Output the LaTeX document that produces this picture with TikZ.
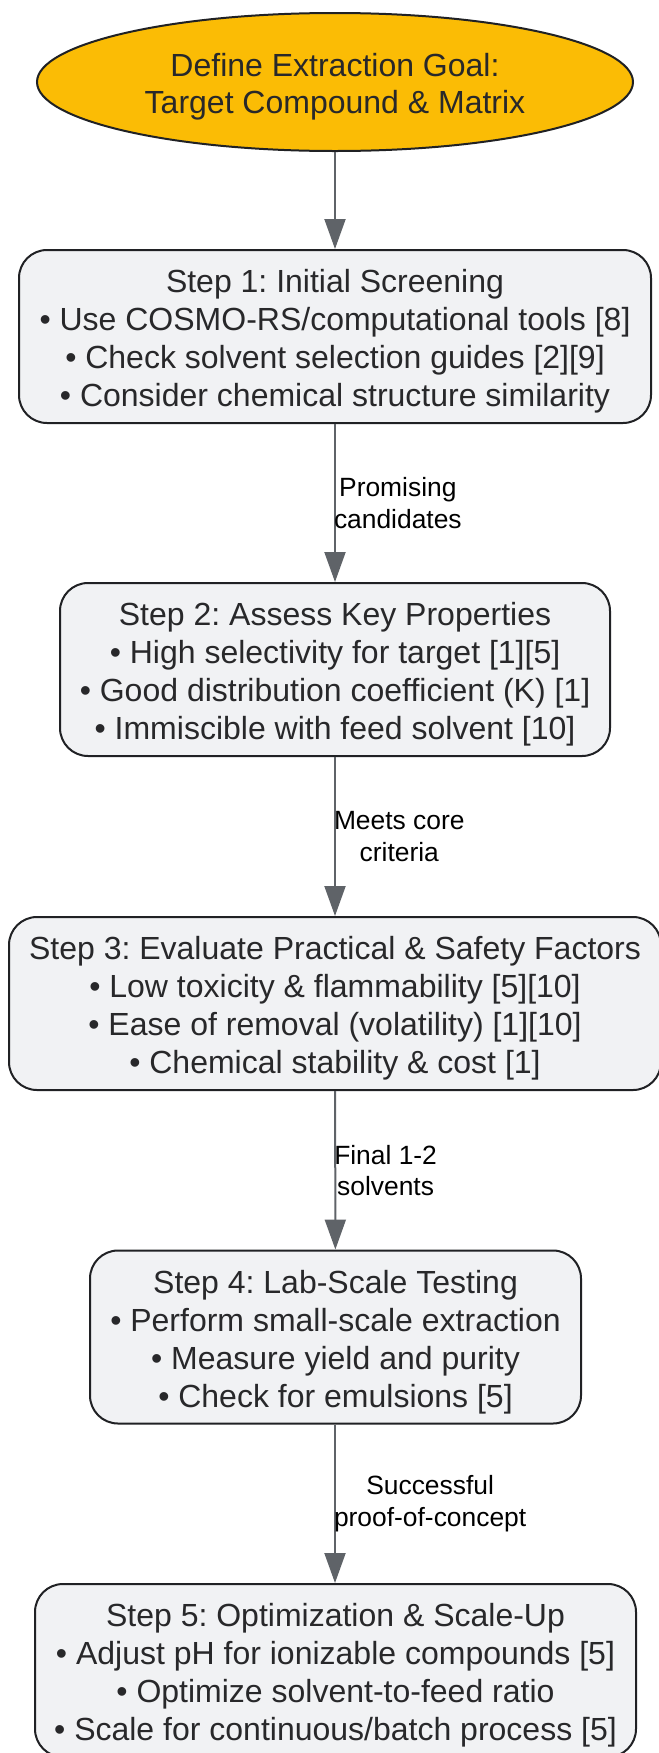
\documentclass[tikz,border=0pt]{standalone}
\usepackage{fontspec}
\setmainfont{Liberation Sans}
\frenchspacing
\usetikzlibrary{shapes.geometric,arrows.meta}
\definecolor{goalfill}{RGB}{251,188,5}
\definecolor{boxfill}{RGB}{241,242,244}
\definecolor{boxline}{RGB}{32,33,36}
\definecolor{txt}{RGB}{40,40,42}
\definecolor{arrgray}{RGB}{95,99,104}
\newcommand{\toppad}{\rule{0pt}{24.5pt}}
\begin{document}
\begin{tikzpicture}[x=0.75pt,y=-0.75pt,
  goalnode/.style={ellipse,draw=boxline,line width=1.5pt,fill=goalfill,
    minimum width=447pt,minimum height=103.5pt,inner sep=0pt,align=center,
    text=txt,font=\fontsize{24}{27.75}\selectfont},
  stepbox/.style={rectangle,rounded corners=21pt,draw=boxline,line width=1.5pt,
    fill=boxfill,minimum height=129.75pt,inner sep=0pt,align=center,
    text=txt,font=\fontsize{24}{28.5}\selectfont},
  arr/.style={draw=arrgray,line width=1.5pt,-{Triangle[length=22.5pt,width=15.75pt]}},
  lbl/.style={anchor=west,inner sep=0pt,xshift=-1.5pt,align=center,text=black,
    font=\fontsize{19.8}{23.5}\selectfont}]
\useasboundingbox (0,0) rectangle (659,1753);
\node[goalnode] (goal) at (335,82) {\toppad Define Extraction Goal:\\Target Compound \& Matrix};
\node[stepbox,minimum width=474pt] (s1) at (335,336.5)
  {\toppad Step 1: Initial Screening\\• Use COSMO-RS/computational tools [8]\\• Check solvent selection guides [2][9]\\• Consider chemical structure similarity};
\node[stepbox,minimum width=412.5pt] (s2) at (335,669.5)
  {\toppad Step 2: Assess Key Properties\\• High selectivity for target [1][5]\\• Good distribution coefficient (K) [1]\\• Immiscible with feed solvent [10]};
\node[stepbox,minimum width=489pt] (s3) at (335,1003.5)
  {\toppad Step 3: Evaluate Practical \& Safety Factors\\• Low toxicity \& flammability [5][10]\\• Ease of removal (volatility) [1][10]\\• Chemical stability \& cost [1]};
\node[stepbox,minimum width=368.25pt] (s4) at (335.5,1337)
  {\toppad Step 4: Lab-Scale Testing\\• Perform small-scale extraction\\• Measure yield and purity\\• Check for emulsions [5]};
\node[stepbox,minimum width=450.75pt] (s5) at (335.5,1670.5)
  {\toppad Step 5: Optimization \& Scale-Up\\• Adjust pH for ionizable compounds [5]\\• Optimize solvent-to-feed ratio\\• Scale for continuous/batch process [5]};
\draw[arr] (goal) -- (s1);
\draw[arr] (s1) -- node[lbl] {Promising\\candidates} (s2);
\draw[arr] (s2) -- node[lbl] {Meets core\\criteria} (s3);
\draw[arr] (s3) -- node[lbl] {Final 1-2\\solvents} (s4);
\draw[arr] (s4.south -| s1.south) -- node[lbl] {Successful\\proof-of-concept} (s5.north -| s1.south);
\end{tikzpicture}
\end{document}
